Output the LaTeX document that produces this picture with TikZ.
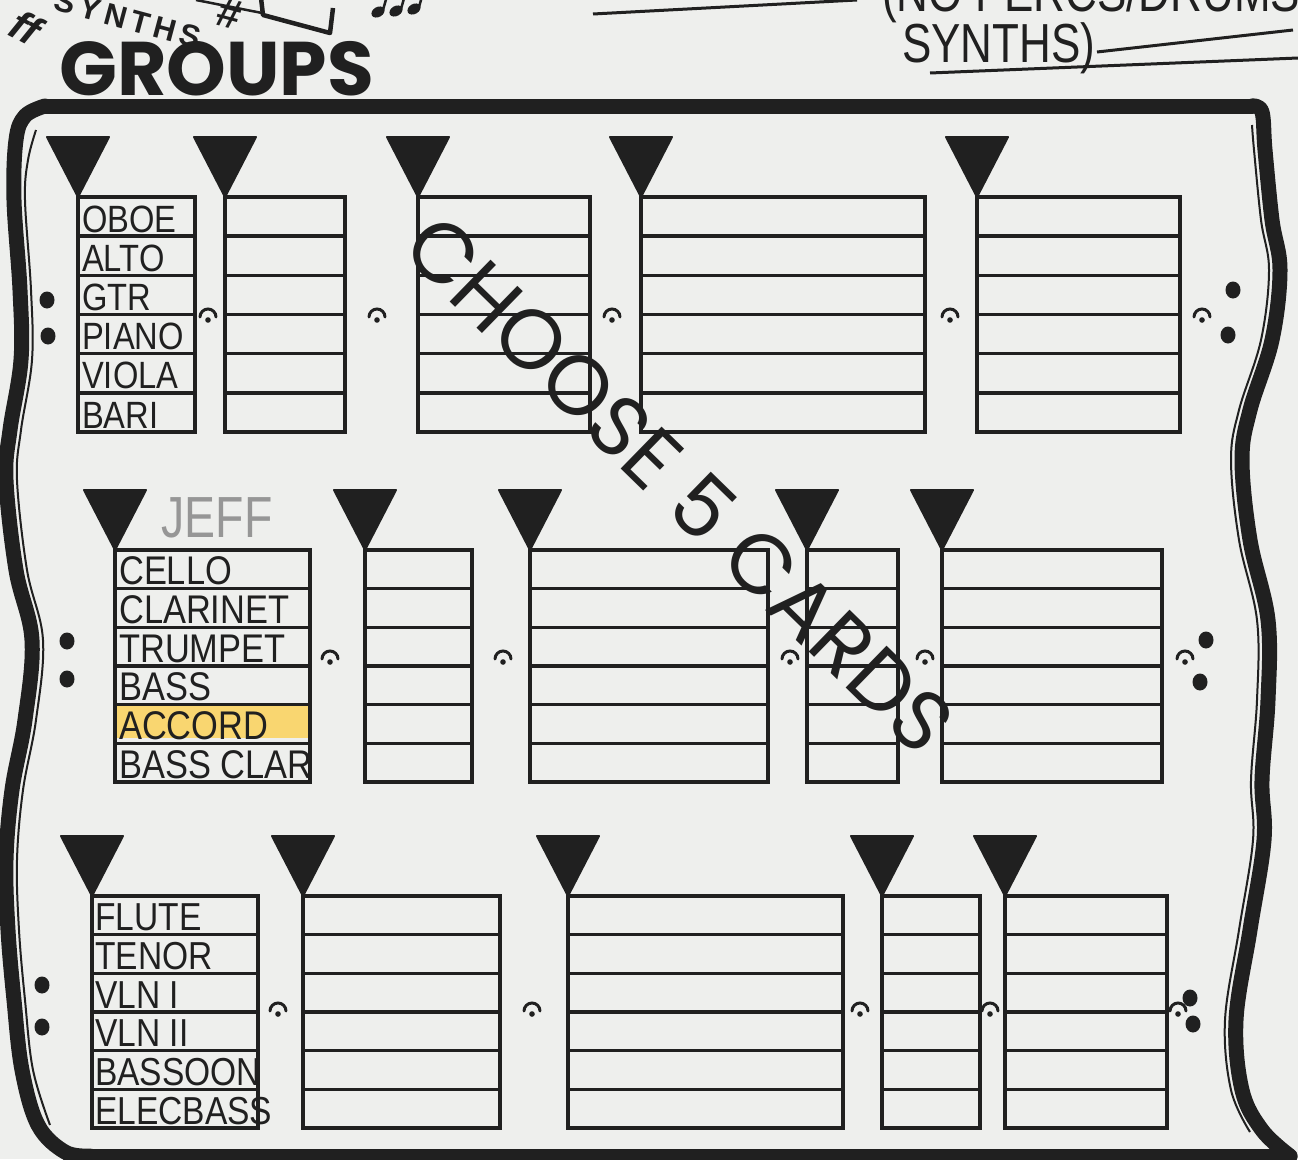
\documentclass[tikz,border=0pt]{standalone}
\usepackage{fontspec}
\setmainfont{Liberation Sans}
\newfontfamily\lblfont[FakeStretch=0.86]{Liberation Sans}
\newfontfamily\titlefont[FakeStretch=0.8]{Liberation Sans}
\newfontfamily\scrawlfont[LetterSpace=16]{Liberation Sans}
\newfontfamily\roundfont{Poppins}
\usetikzlibrary{positioning,calc}

\definecolor{paper}{RGB}{238,239,237}
\definecolor{ink}{RGB}{32,32,32}
\definecolor{marker}{RGB}{249,214,112}
\definecolor{pencil}{RGB}{150,150,150}

\tikzstyle{frame} = [draw=ink, line width=15pt, line cap=round, line join=round]
\tikzstyle{innerframe} = [draw=ink, line width=2pt]
\tikzstyle{staffline} = [draw=ink, line width=3.5pt, line cap=round]
\tikzstyle{wedge} = [fill=ink, draw=ink, line width=2pt, line join=round]
\tikzstyle{fermata} = [draw=ink, line width=3pt, line cap=round]
\tikzstyle{instr} = [anchor=base west, inner sep=0pt, text=ink]
\tikzstyle{scrawl} = [inner sep=0pt, text=ink]

% one stave card: left x, right x, top y, bottom y
\newcommand{\card}[4]{%
  \filldraw[wedge] (#1-31,#3-60) -- (#1+31,#3-60) -- (#1,#3) -- cycle;
  \draw[staffline] (#1,#3) rectangle (#2,#4);
  \foreach \k in {1,...,5}
    \draw[staffline] (#1,{#3+\k*(#4-#3)/6}) -- (#2,{#3+\k*(#4-#3)/6});
}
% fermata sign at x,y
\newcommand{\holdsign}[2]{%
  \draw[fermata] (#1-8,#2+1) arc[start angle=180, end angle=360, radius=8];
  \fill[ink] (#1,#2+4) circle (2.8);
}

\begin{document}
\begin{tikzpicture}[x=1pt, y=-1pt]
    \useasboundingbox (0,0) rectangle (1298,1159);
    \clip (0,0) rectangle (1298,1159);
    \fill[paper] (0,0) rectangle (1298,1159);

    % Scribbles above the frame
    \node[scrawl, rotate=-28, font=\bfseries\itshape\fontsize{42}{42}\selectfont] (forte) at (26,27) {ff};
    \node[scrawl, rotate=-15, font=\scrawlfont\bfseries\fontsize{31}{31}\selectfont] (synthsL) at (128,19) {SYNTHS};
    \node[scrawl, rotate=-15, font=\bfseries\fontsize{42}{42}\selectfont] (sharp) at (229,14) {\#};
    \draw[ink, line width=2.5pt] (196,0) -- (262,13);
    \draw[ink, line width=4.5pt, line join=round] (261,-2) -- (263,15) -- (330,33) -- (333,8);
    \foreach \hx/\hy in {378/12, 396/11, 414/9} {
        \fill[ink, rotate around={30:(\hx,\hy)}] (\hx,\hy) ellipse (7 and 5);
        \draw[ink, line width=2.5pt] (\hx+5,\hy-2) -- (\hx+9,\hy-16);
    }
    \node[scrawl, anchor=base west, font=\roundfont\bfseries\fontsize{76}{76}\selectfont] (groups) at (59,95) {GROUPS};

    \node[scrawl, anchor=base west, font=\titlefont\fontsize{55}{55}\selectfont] (percs) at (882,12) {(NO PERCS/DRUMS};
    \node[scrawl, anchor=base west, font=\titlefont\fontsize{55}{55}\selectfont] (synthsR) at (902,62) {SYNTHS)};
    \draw[ink, line width=3pt] (593,14) -- (857,0);
    \draw[ink, line width=3pt] (1097,52) -- (1293,30);
    \draw[ink, line width=3pt] (930,73) -- (1298,58);

    % Frame
    \draw[frame] (45,106) -- (1252,106);
    \draw[frame] (70,1156) -- (1290,1156);
    \draw[frame] plot[smooth, tension=0.6] coordinates {(45,106) (25,116) (16,140) (14,200) (20,290) (21,360) (10,430) (6,480) (16,570) (32,640) (25,720) (12,790) (6,860) (8,930) (14,1000) (22,1070) (38,1125) (65,1152) (90,1156)};
    \draw[innerframe] plot[smooth, tension=0.6] coordinates {(36,130) (28,160) (25,200) (31,290) (32,360) (21,430) (17,480) (27,570) (43,640) (36,720) (23,790) (17,860) (19,930) (25,1000) (33,1070) (50,1125)};
    \draw[frame] plot[smooth, tension=0.6] coordinates {(1252,106) (1262,112) (1265,150) (1272,220) (1280,270) (1272,340) (1250,410) (1242,460) (1250,540) (1268,620) (1268,700) (1262,780) (1264,840) (1250,930) (1236,1020) (1242,1090) (1262,1130) (1290,1156)};
    \draw[innerframe] plot[smooth, tension=0.6] coordinates {(1252,125) (1254,150) (1261,220) (1269,270) (1261,340) (1239,410) (1231,460) (1239,540) (1257,620) (1257,700) (1251,780) (1253,840) (1239,930) (1225,1020) (1231,1090) (1250,1132)};

    % Row 1
    \foreach \lx/\rx in {78/195, 225/345, 418/590, 641/925, 977/1180}
        \card{\lx}{\rx}{197}{432};
    \foreach \fx in {208, 377, 612, 950, 1202}
        \holdsign{\fx}{316};
    \foreach \dx/\dy in {47/300, 48/336, 1233/290, 1228/335}
        \fill[ink] (\dx,\dy) ellipse (7.5 and 8.5);
    \foreach \lbl [count=\i] in {OBOE, ALTO, GTR, PIANO, VIOLA, BARI}
        \node[instr, font=\lblfont\fontsize{38}{38}\selectfont] (rowA-\i) at (82,{197+39.17*\i-4}) {\lbl};

    % Row 2
    \fill[marker] (116,705) rectangle (310,738);
    \foreach \lx/\rx in {115/310, 365/472, 530/768, 807/898, 942/1162}
        \card{\lx}{\rx}{550}{782};
    \foreach \fx in {330, 503, 790, 925, 1185}
        \holdsign{\fx}{658};
    \foreach \dx/\dy in {67/641, 67/679, 1206/640, 1200/682}
        \fill[ink] (\dx,\dy) ellipse (7.5 and 8.5);
    \foreach \lbl [count=\i] in {CELLO, CLARINET, TRUMPET, BASS, ACCORD, BASS CLAR}
        \node[instr, font=\lblfont\fontsize{40}{40}\selectfont] (rowB-\i) at (119,{550+38.67*\i-4}) {\lbl};
    \node[scrawl, text=pencil, font=\titlefont\fontsize{58}{58}\selectfont] (jeff) at (217,518) {JEFF};

    % Row 3
    \foreach \lx/\rx in {92/258, 303/500, 568/843, 882/980, 1005/1167}
        \card{\lx}{\rx}{896}{1128};
    \foreach \fx in {278, 532, 860, 990, 1178}
        \holdsign{\fx}{1010};
    \foreach \dx/\dy in {42/985, 42/1027, 1190/998, 1193/1024}
        \fill[ink] (\dx,\dy) ellipse (7.5 and 8.5);
    \foreach \lbl [count=\i] in {FLUTE, TENOR, VLN I, VLN II, BASSOON, ELECBASS}
        \node[instr, font=\lblfont\fontsize{39}{39}\selectfont] (rowC-\i) at (95,{896+38.67*\i-4}) {\lbl};

    % Diagonal stamp
    \node[scrawl, rotate=-44.3, font=\roundfont\fontsize{84}{84}\selectfont] (choose) at (680,484) {CHOOSE 5 CARDS};
\end{tikzpicture}
\end{document}
